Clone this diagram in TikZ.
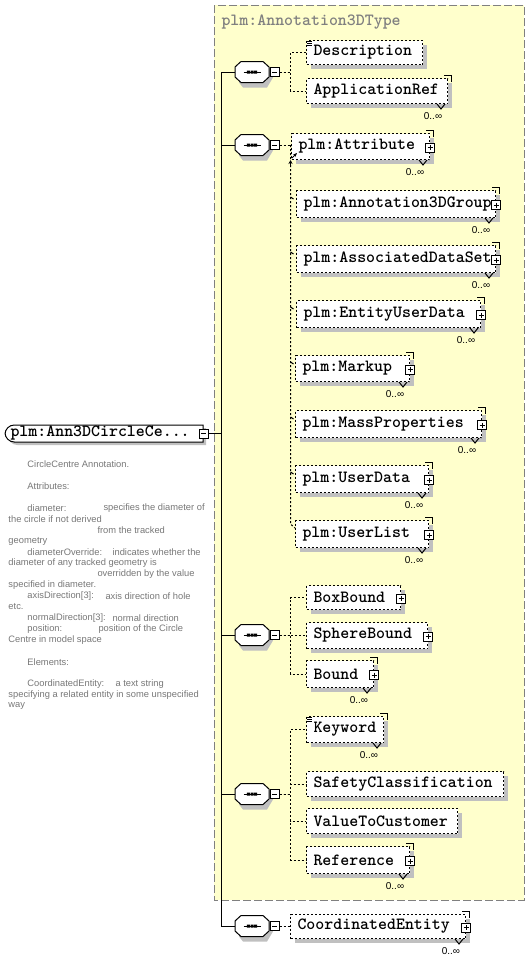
\documentclass[tikz,border=0pt]{standalone}
\usepackage{fontspec}
\setmainfont{Liberation Sans}
\usetikzlibrary{shadows,calc,arrows.meta}
\definecolor{yel}{HTML}{FFFFCC}
\definecolor{shd}{HTML}{C0C0C0}
\definecolor{bordergray}{HTML}{808080}
\definecolor{txtgray}{HTML}{777777}
\newcommand\elemfont{\ttfamily\bfseries\fontsize{12.8pt}{13pt}\selectfont}
\tikzset{
  elembox/.style={draw=black, dash pattern=on 1.5pt off 1.5pt, fill=white,
    general shadow={fill=shd, draw=none, shadow xshift=3pt, shadow yshift=-3pt},
    inner xsep=5.25pt, inner ysep=0pt, anchor=north west, align=left,
    font=\elemfont},
  dline/.style={dash pattern=on 1.5pt off 1.5pt},
  pbox/.style={draw=black, solid, fill=white, minimum size=6.75pt, inner sep=0pt,
    path picture={\draw ([xshift=1.5pt]path picture bounding box.west) -- ([xshift=-1.5pt]path picture bounding box.east)
      ([yshift=-1.5pt]path picture bounding box.north) -- ([yshift=1.5pt]path picture bounding box.south);}},
  mbox/.style={draw=black, solid, fill=white, minimum size=6.75pt, inner sep=0pt,
    path picture={\draw ([xshift=1.5pt]path picture bounding box.west) -- ([xshift=-1.5pt]path picture bounding box.east);}},
  occ/.style={inner sep=0pt, font=\fontsize{7.5pt}{8pt}\selectfont},
  ann/.style={inner sep=0pt, anchor=west, text=txtgray, font=\fontsize{7pt}{8pt}\selectfont},
  titlelbl/.style={inner sep=0pt, anchor=west, text=bordergray, font=\elemfont},
}
\newcommand\elem[6]{%
  \pgfmathsetmacro\tw{(#4-#2)*0.75-10.5}%
  \pgfmathsetmacro\eh{(#5-#3)*0.75}%
  \node[elembox, text width=\tw pt, minimum height=\eh pt] (#1) at (#2,#3) {#6};}
\newcommand\plusicon[2]{\node[pbox] (#2) at ($(#1.east)+(0,1)$) {};}
\newcommand\multi[2]{%
  \draw ($(#1.north east)+(-4,-3)$) -- ($(#1.north east)+(3,-3)$) -- ($(#1.north east)+(3,4)$);
  \draw ($(#1.south east)+(-11,0)$) -- ($(#1.south east)+(-7,5)$) -- ($(#1.south east)+(-3,0)$);
  \node[occ] (#2) at ($(#1.south east)+(-15,12)$) {0..∞};}
\newcommand\simpleicon[1]{%
  \draw ($(#1.north west)+(1,1)$) -- ++(5,0) ($(#1.north west)+(1,3)$) -- ++(5,0) ($(#1.north west)+(1,5)$) -- ++(5,0);}
\newcommand\seqc[4]{% name, minus name, cx, cy
  \fill[shd] ({#3-13},{#4-5.5}) -- ({#3-7},{#4-10.5}) -- ({#3+11},{#4-10.5}) -- ({#3+17},{#4-5.5}) -- ({#3+21},{#4+5.5})
     -- ({#3+15},{#4+15.5}) -- ({#3-9},{#4+15.5}) -- ({#3-13},{#4+10.5}) -- cycle;
  \draw[fill=white] ({#3-17},{#4-5}) -- ({#3-11},{#4-10.5}) -- ({#3+11},{#4-10.5}) -- ({#3+17},{#4-5})
     -- ({#3+17},{#4+5}) -- ({#3+11},{#4+10.5}) -- ({#3-11},{#4+10.5}) -- ({#3-17},{#4+5}) -- cycle;
  \node[inner sep=0pt, minimum width=25.5pt, minimum height=15.75pt] (#1) at (#3,#4) {};
  \draw ({#3-8.5},#4) -- ({#3+8.5},#4);
  \fill ({#3-5.2},{#4-1.5}) rectangle ({#3-2.2},{#4+1.5}) ({#3-1.5},{#4-1.5}) rectangle ({#3+1.5},{#4+1.5}) ({#3+2.2},{#4-1.5}) rectangle ({#3+5.2},{#4+1.5});
  \node[mbox] (#2) at ({#3+22.5},#4) {};}
\begin{document}
\begin{tikzpicture}[x=0.75pt,y=-0.75pt,line width=0.75pt]
\useasboundingbox (0,0) rectangle (530,961);
% yellow type box
\draw[bordergray, dash pattern=on 6pt off 2.25pt, fill=yel] (214,5) rectangle (524,900);
\node[titlelbl] (title) at (221,22) {plm:Annotation3DType};
% root element
\path[fill=white, draw=black, general shadow={fill=shd, draw=none, shadow xshift=2.25pt, shadow yshift=-2.25pt}]
  (203,442) [rounded corners=7] -- (5,442) -- (5,425) [sharp corners] -- (203,425) -- cycle;
\node[inner sep=0pt, anchor=west, font=\elemfont] (root) at (10,433) {plm:Ann3DCircleCe...};
\node[mbox] (m0) at (203.5,433.5) {};
\coordinate (trunk) at (221,433.5);
% compositors
\seqc{s1}{m1}{252}{72}
\seqc{s2}{m2}{252}{145}
\seqc{s3}{m3}{252}{635}
\seqc{s4}{m4}{252}{794}
\seqc{s5}{m5}{252}{926}
\draw (m0.east) -- (trunk);
\draw (s1.west) -| (trunk);
\draw (s5.west) -| (trunk);
\draw (s2.west) -- (s2.west -| trunk);
\draw (s3.west) -- (s3.west -| trunk);
\draw (s4.west) -- (s4.west -| trunk);
% elements
\elem{e1}{306}{40}{422}{64}{Description}
\elem{e2}{306}{78}{447}{103}{ApplicationRef}
\elem{e3}{291}{133}{429}{159}{plm:Attribute}
\elem{e4}{296}{190}{495}{217}{plm:Annotation3DGroup}
\elem{e5}{296}{245}{495}{272}{plm:AssociatedDataSet}
\elem{e6}{296}{300}{480}{327}{plm:EntityUserData}
\elem{e7}{295}{355}{409}{381}{plm:Markup}
\elem{e8}{295}{410}{481}{437}{plm:MassProperties}
\elem{e9}{295}{465}{428}{492}{plm:UserData}
\elem{e10}{295}{520}{428}{547}{plm:UserList}
\elem{e11}{306}{585}{400}{609}{BoxBound}
\elem{e12}{306}{622}{427}{648}{SphereBound}
\elem{e13}{306}{660}{373}{687}{Bound}
\elem{e14}{306}{716}{383}{742}{Keyword}
\elem{e15}{306}{771}{503}{796}{SafetyClassification}
\elem{e16}{306}{808}{457}{833}{ValueToCustomer}
\elem{e17}{306}{846}{409}{873}{Reference}
\elem{e18}{290}{914}{465}{938}{CoordinatedEntity}
\simpleicon{e1}
\simpleicon{e14}
\multi{e2}{o2}
\multi{e3}{o3}
\multi{e4}{o4}
\multi{e5}{o5}
\multi{e6}{o6}
\multi{e7}{o7}
\multi{e8}{o8}
\multi{e9}{o9}
\multi{e10}{o10}
\multi{e13}{o13}
\multi{e14}{o14}
\multi{e17}{o17}
\multi{e18}{o18}
\plusicon{e3}{p3}
\plusicon{e4}{p4}
\plusicon{e5}{p5}
\plusicon{e6}{p6}
\plusicon{e7}{p7}
\plusicon{e8}{p8}
\plusicon{e9}{p9}
\plusicon{e10}{p10}
\plusicon{e11}{p11}
\plusicon{e12}{p12}
\plusicon{e13}{p13}
\plusicon{e17}{p17}
\plusicon{e18}{p18}
% dashed connectors
\draw[dline] (m1.east) -- ++(11,0) |- (e1.west);
\draw[dline] (m1.east) -- ++(11,0) |- (e2.west);
\coordinate (sv) at ($(m2.east)+(11,0)$);
\draw[dline] (m2.east) -- (m2.east -| e3.west);
\draw[dline] (sv) -- ($(sv |- e10.north west)+(0,4)$) -- ($(e10.north west)+(0,8)$);
\draw[-{Stealth[length=3pt,width=3pt]}] ($(sv)+(0,22)$) -- ($(sv)+(0,15)$);
\draw[-{Stealth[length=3pt,width=2.5pt]}] ($(e3.south west)+(1,-2)$) -- ($(e3.south west)+(6,-7)$);
\foreach \e in {e4,e5,e6,e7,e8,e9}{
  \draw ($(sv |- \e.north west)+(0,7)$) -- ($(sv |- \e.north west)+(3,9)$);
}
\draw[dline] (m3.east) -- ++(11,0) |- (e11.west);
\draw[dline] (m3.east) -- ++(11,0) |- (e12.west);
\draw[dline] (m3.east) -- ++(11,0) |- (e13.west);
\draw[dline] (m4.east) -- ++(11,0) |- (e14.west);
\draw[dline] (m4.east) -- ++(11,0) |- (e15.west);
\draw[dline] (m4.east) -- ++(11,0) |- (e16.west);
\draw[dline] (m4.east) -- ++(11,0) |- (e17.west);
\draw[dline] (m5.east) -- (m5.east -| e18.west);
% annotation
\node[ann] (t1) at (27,464) {CircleCentre Annotation.};
\node[ann] (t2) at (27,486) {Attributes:};
\node[ann] (t3) at (27,508) {diameter:};
\node[ann] (t4) at (103,508) {specifies the diameter of};
\node[ann] (t5) at (8,519) {the circle if not derived};
\node[ann] (t6) at (97,530) {from the tracked};
\node[ann] (t7) at (8,541) {geometry};
\node[ann] (t8) at (27,552) {diameterOverride:};
\node[ann] (t9) at (112,552) {indicates whether the};
\node[ann] (t10) at (8,563) {diameter of any tracked geometry is};
\node[ann] (t11) at (97,574) {overridden by the value};
\node[ann] (t12) at (8,585) {specified in diameter.};
\node[ann] (t13) at (27,596) {axisDirection[3]:};
\node[ann] (t14) at (105,596) {axis direction of hole};
\node[ann] (t15) at (8,607) {etc.};
\node[ann] (t16) at (27,618) {normalDirection[3]:};
\node[ann] (t17) at (112,618) {normal direction};
\node[ann] (t18) at (27,629) {position:};
\node[ann] (t19) at (98,629) {position of the Circle};
\node[ann] (t20) at (8,640) {Centre in model space};
\node[ann] (t21) at (27,662) {Elements:};
\node[ann] (t22) at (27,684) {CoordinatedEntity:};
\node[ann] (t23) at (115,684) {a text string};
\node[ann] (t24) at (8,695) {specifying a related entity in some unspecified};
\node[ann] (t25) at (8,706) {way};
\end{tikzpicture}
\end{document}
